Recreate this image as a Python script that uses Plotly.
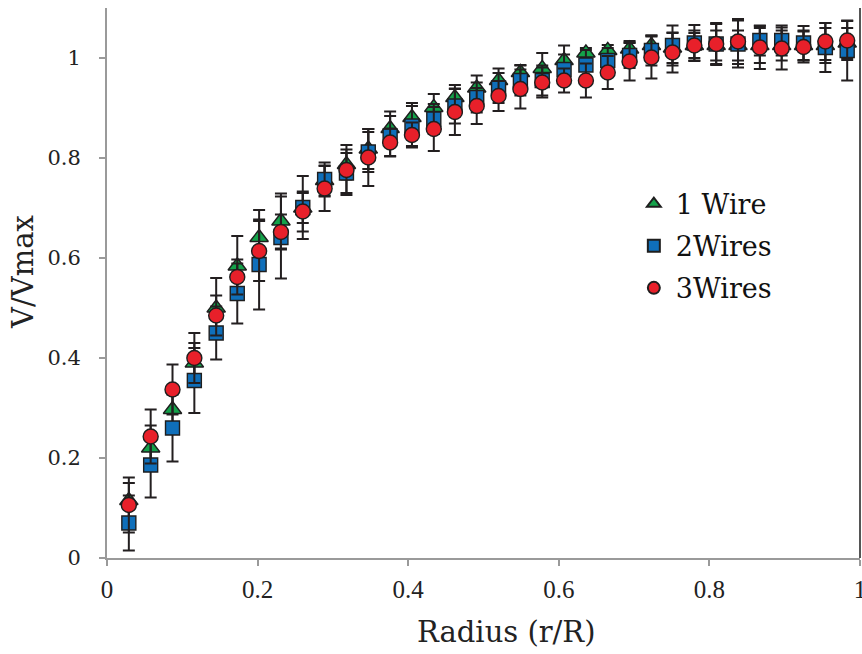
import plotly.graph_objects as go

# Radius positions (r/R)
radius = [0.029, 0.058, 0.087, 0.116, 0.145, 0.173, 0.202, 0.231, 0.260, 0.289,
          0.318, 0.347, 0.376, 0.405, 0.434, 0.462, 0.491, 0.520, 0.549, 0.578,
          0.607, 0.636, 0.665, 0.694, 0.723, 0.751, 0.780, 0.809, 0.838, 0.867,
          0.896, 0.925, 0.954, 0.983]

wire1 = [0.115, 0.220, 0.297, 0.390, 0.500, 0.584, 0.641, 0.674, 0.700, 0.755,
         0.787, 0.818, 0.859, 0.881, 0.901, 0.921, 0.940, 0.955, 0.971, 0.979,
         0.995, 1.010, 1.015, 1.018, 1.025, 1.020, 1.025, 1.025, 1.025, 1.025,
         1.025, 1.025, 1.025, 1.030]
wire2 = [0.070, 0.186, 0.260, 0.355, 0.450, 0.529, 0.587, 0.641, 0.701, 0.757,
         0.770, 0.812, 0.844, 0.864, 0.878, 0.904, 0.921, 0.940, 0.955, 0.955,
         0.977, 0.986, 0.995, 1.005, 1.015, 1.025, 1.030, 1.028, 1.028, 1.035,
         1.035, 1.030, 1.021, 1.015]
wire3 = [0.106, 0.243, 0.337, 0.400, 0.485, 0.562, 0.614, 0.652, 0.693, 0.739,
         0.776, 0.801, 0.831, 0.846, 0.858, 0.892, 0.904, 0.924, 0.938, 0.951,
         0.955, 0.955, 0.971, 0.993, 1.001, 1.011, 1.025, 1.028, 1.033, 1.021,
         1.019, 1.022, 1.033, 1.035]

err1 = [0.035, 0.045, 0.040, 0.040, 0.060, 0.060, 0.055, 0.055, 0.030, 0.030,
        0.030, 0.040, 0.034, 0.029, 0.027, 0.025, 0.025, 0.024, 0.015, 0.031,
        0.030, 0.010, 0.011, 0.016, 0.020, 0.030, 0.025, 0.030, 0.030, 0.035,
        0.030, 0.030, 0.035, 0.030]
err2 = [0.055, 0.065, 0.067, 0.065, 0.053, 0.060, 0.090, 0.082, 0.063, 0.034,
        0.040, 0.040, 0.040, 0.040, 0.030, 0.035, 0.030, 0.030, 0.030, 0.030,
        0.030, 0.030, 0.025, 0.025, 0.030, 0.040, 0.036, 0.042, 0.047, 0.030,
        0.030, 0.034, 0.049, 0.060]
err3 = [0.055, 0.054, 0.050, 0.050, 0.040, 0.035, 0.060, 0.035, 0.040, 0.045,
        0.050, 0.057, 0.028, 0.025, 0.044, 0.046, 0.036, 0.030, 0.039, 0.030,
        0.024, 0.034, 0.033, 0.038, 0.042, 0.040, 0.030, 0.040, 0.045, 0.043,
        0.042, 0.031, 0.037, 0.039]

series_names = ["1 Wire", "2Wires", "3Wires"]
x_ticks = [0, 0.2, 0.4, 0.6, 0.8, 1]
x_ticklabels = ["0", "0.2", "0.4", "0.6", "0.8", "1"]
y_ticks = [0, 0.2, 0.4, 0.6, 0.8, 1]
y_ticklabels = ["0", "0.2", "0.4", "0.6", "0.8", "1"]

EDGE = "#1e1e1e"
ERR = "#231f20"

fig = go.Figure()
specs = [
    (wire1, err1, series_names[0], "triangle-up", "#14a24a", 16),
    (wire2, err2, series_names[1], "square", "#0f6fba", 14),
    (wire3, err3, series_names[2], "circle", "#e8202a", 15),
]
for vals, errs, name, sym, col, size in specs:
    fig.add_trace(go.Scatter(
        x=radius, y=vals, name=name, mode="markers", legendgroup=name,
        marker=dict(symbol=sym, color=col, size=size,
                    line=dict(color=EDGE, width=1.4)),
        error_y=dict(type="data", array=errs, visible=True,
                     color=ERR, thickness=2, width=6),
    ))

fig.update_layout(
    width=862, height=654,
    margin=dict(l=107, r=2, t=8, b=96, autoexpand=False),
    paper_bgcolor="white", plot_bgcolor="white",
    showlegend=True,
    legend=dict(x=0.697, y=0.688, xanchor="left", yanchor="top",
                font=dict(family="DejaVu Serif", size=27, color="#111"),
                bgcolor="rgba(0,0,0,0)", tracegroupgap=4,
                itemwidth=34, itemsizing="constant"),
    xaxis=dict(range=[0, 1], tickvals=x_ticks, ticktext=x_ticklabels,
               automargin=False,
               showgrid=False, zeroline=False, showline=True,
               linecolor="#9a9a9a", linewidth=2, ticks="outside",
               ticklen=6, tickwidth=2, tickcolor="#9a9a9a",
               ticklabelstandoff=2, ticklabeloverflow="allow",
               tickfont=dict(family="Liberation Serif", size=25, color="#222")),
    yaxis=dict(range=[0, 1.1], tickvals=y_ticks, ticktext=y_ticklabels,
               automargin=False,
               showgrid=False, zeroline=False, showline=True,
               linecolor="#9a9a9a", linewidth=2, ticks="outside",
               ticklen=6, tickwidth=2, tickcolor="#9a9a9a",
               ticklabelstandoff=14,
               tickfont=dict(family="DejaVu Serif", size=21, color="#222")),
    shapes=[dict(type="line", xref="paper", yref="paper", x0=1, x1=1,
                 y0=0, y1=1, line=dict(color="#555", width=2))],
    annotations=[
        dict(text="Radius (r/R)", xref="paper", yref="paper", x=0.531,
             y=-0.1345, xanchor="center", yanchor="middle", showarrow=False,
             font=dict(family="DejaVu Serif", size=29, color="#222")),
        dict(text="V/Vmax", xref="paper", yref="paper", x=-0.1116, y=0.52,
             xanchor="center", yanchor="middle", showarrow=False,
             textangle=-90,
             font=dict(family="DejaVu Serif", size=29, color="#222")),
    ],
)

fig.write_html("out.html")
